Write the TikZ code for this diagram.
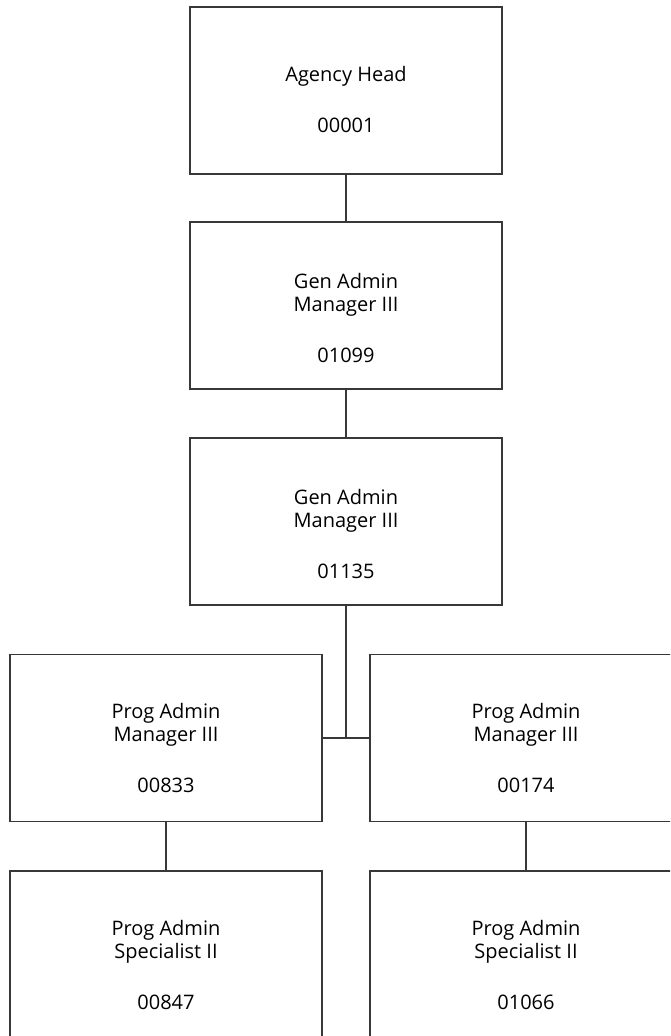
\documentclass[tikz,border=0pt]{standalone}
\usepackage{fontspec}
\setmainfont{Open Sans}
\begin{document}
\begin{tikzpicture}[x=1pt,y=-1pt,
  orgbox/.style={draw=black!78, line width=1.8pt, fill=white,
    minimum width=312pt, minimum height=167pt, inner sep=0pt},
  roletext/.style={anchor=base, align=center, inner sep=0pt, text=black,
    font=\fontsize{20}{23}\selectfont},
  link/.style={draw=black!78, line width=1.8pt}]
  \useasboundingbox (0,0) rectangle (670,1036);
  \clip (0,0) rectangle (670,1036);

  % position boxes
  \node[orgbox] (head) at (346,90.5) {};
  \node[orgbox] (gam1) at (346,305.5) {};
  \node[orgbox] (gam2) at (346,521.5) {};
  \node[orgbox] (pam1) at (166,738) {};
  \node[orgbox] (pam2) at (526,738) {};
  \node[orgbox] (pas1) at (166,954.5) {};
  \node[orgbox] (pas2) at (526,954.5) {};

  % titles and position numbers (the base anchor is the baseline of the number line)
  \node[roletext] (headt) at ([yshift=-126pt]head.north) {Agency Head\\[28pt]00001};
  \node[roletext] (gam1t) at ([yshift=-141pt]gam1.north) {Gen Admin\\Manager III\\[28pt]01099};
  \node[roletext] (gam2t) at ([yshift=-141pt]gam2.north) {Gen Admin\\Manager III\\[28pt]01135};
  \node[roletext] (pam1t) at ([yshift=-139pt]pam1.north) {Prog Admin\\Manager III\\[28pt]00833};
  \node[roletext] (pam2t) at ([yshift=-139pt]pam2.north) {Prog Admin\\Manager III\\[28pt]00174};
  \node[roletext] (pas1t) at ([yshift=-139pt]pas1.north) {Prog Admin\\Specialist II\\[28pt]00847};
  \node[roletext] (pas2t) at ([yshift=-139pt]pas2.north) {Prog Admin\\Specialist II\\[28pt]01066};

  % reporting lines
  \draw[link] (head.south) -- (gam1.north);
  \draw[link] (gam1.south) -- (gam2.north);
  \draw[link] (gam2.south) -- (gam2.south |- pam1.east);
  \draw[link] (pam1.east) -- (pam2.west);
  \draw[link] (pam1.south) -- (pas1.north);
  \draw[link] (pam2.south) -- (pas2.north);
\end{tikzpicture}
\end{document}
